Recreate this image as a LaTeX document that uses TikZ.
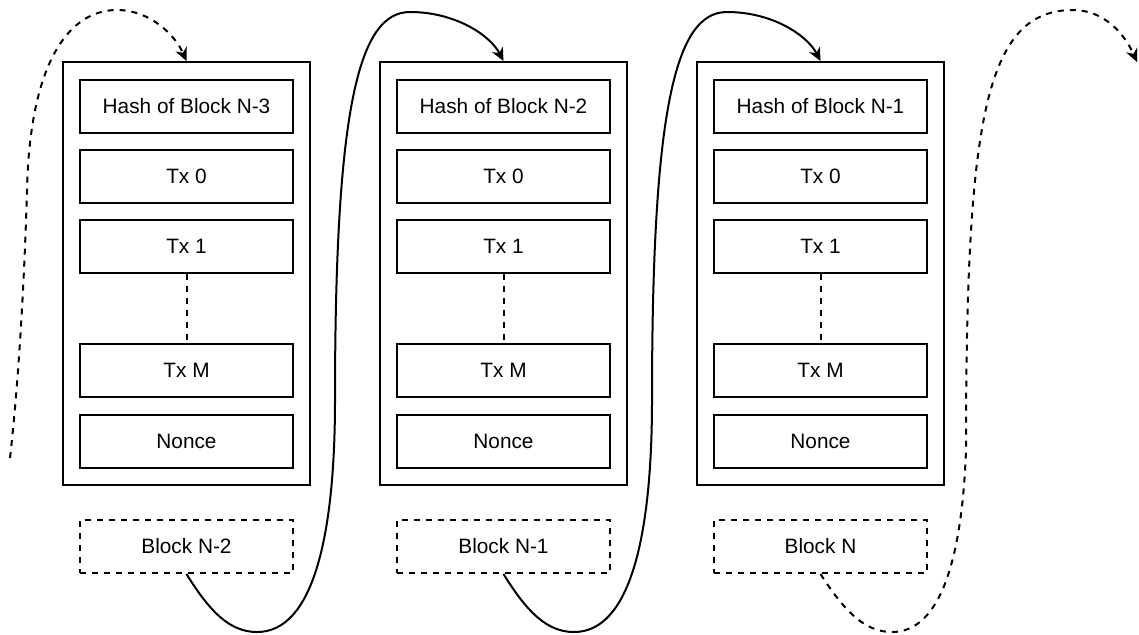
\documentclass[tikz,border=0pt]{standalone}
\usepackage{fontspec}
\setmainfont{Liberation Sans}
\usetikzlibrary{arrows.meta}
\begin{document}
\begin{tikzpicture}[x=0.5pt,y=-0.5pt,
  outer/.style={draw,line width=1pt,minimum width=123.5pt,minimum height=211.5pt,inner sep=0pt},
  field/.style={draw,line width=1pt,minimum width=106.5pt,minimum height=26.5pt,inner sep=0pt,font=\fontsize{10.4}{12.5}\selectfont},
  tag/.style={field,dash pattern=on 3pt off 3pt},
  gap/.style={line width=1pt,dash pattern=on 3pt off 3pt},
  link/.style={line width=1pt,-{Stealth[length=6.5pt,width=6pt,inset=2pt]}},
  dlink/.style={link,dash pattern=on 3pt off 3pt}]
\useasboundingbox (0,0) rectangle (1139,634);
\foreach \i/\h/\b in {0/N-3/N-2,1/N-2/N-1,2/N-1/N}{
  \pgfmathsetmacro\cx{186.5+317*\i}
  \node[outer] (blk\i) at (\cx,273.5) {};
  \node[field] (hash\i) at (\cx,106.5) {Hash of Block \h};
  \node[field] (txa\i) at (\cx,176.5) {Tx 0};
  \node[field] (txb\i) at (\cx,246.5) {Tx 1};
  \node[field] (txm\i) at (\cx,370.5) {Tx M};
  \node[field] (nonce\i) at (\cx,441.5) {Nonce};
  \node[tag] (lbl\i) at (\cx,546.5) {Block \b};
  \draw[gap] (txb\i.south) -- (txm\i.north);
}
\foreach \i/\j in {0/1,1/2}{
  \pgfmathsetmacro\dx{317*\i}
  \draw[link] (lbl\i.south) .. controls (210+\dx,612) and (230+\dx,632) .. (257+\dx,632)
    .. controls (312+\dx,632) and (335+\dx,540) .. (335+\dx,400)
    .. controls (335+\dx,110) and (358+\dx,12) .. (410+\dx,12)
    .. controls (455+\dx,12) and (490+\dx,35) .. (blk\j.north);
}
\coordinate (prev) at (10,458);
\coordinate (next) at (1137,62);
\draw[dlink] (prev) .. controls (20,370) and (25,260) .. (27,190)
  .. controls (30,60) and (70,10) .. (117,10)
  .. controls (150,10) and (175,35) .. (blk0.north);
\draw[dlink] (lbl2.south) .. controls (845,612) and (865,632) .. (892,632)
  .. controls (940,632) and (962,560) .. (966,450)
  .. controls (966,120) and (985,10) .. (1073,10)
  .. controls (1105,10) and (1125,35) .. (next);
\end{tikzpicture}
\end{document}
